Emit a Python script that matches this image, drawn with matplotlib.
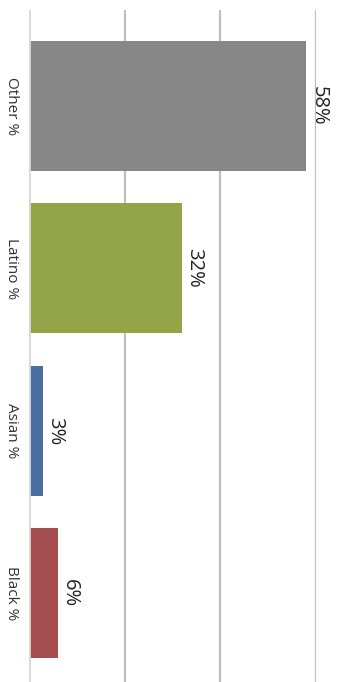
import matplotlib.pyplot as plt

# data
categories = ["Other %", "Latino %", "Asian %", "Black %"]
values = [58, 32, 3, 6]
colors = ["#878787", "#93a547", "#4a6fa5", "#a64d4f"]
ticks = [0, 20, 40, 60]

plt.rcParams["font.family"] = ["Open Sans", "DejaVu Sans"]

fig = plt.figure(figsize=(3.59, 6.82), dpi=100)
W, H = 359, 682
ax = fig.add_axes([29 / W, 0, (316 - 29) / W, 1 - 10 / H])

pos = list(range(len(categories)))
ax.barh(pos, values, height=0.8, color=colors, zorder=3)

# pixel calibration: slot 0 centre at y=106, pitch 162.5 px
ax.set_ylim(3 + (682 - 593) / 162.5, -(106 - 10) / 162.5)
ax.set_xlim(0, 60)
ax.set_xticks(ticks)
ax.tick_params(axis="x", bottom=False, labelbottom=False)
ax.tick_params(axis="y", left=False)
ax.set_yticks(pos)
ax.set_yticklabels(categories, rotation=-90, va="center", ha="center",
                   fontsize=11, color="#333333")
ax.yaxis.set_tick_params(pad=9)
ax.grid(axis="x", color="#bfbfbf", linewidth=1.6, zorder=0)
for s in ax.spines.values():
    s.set_visible(False)
ax.axvline(0, color="#d9d9d9", linewidth=2, zorder=4)

for p, v in zip(pos, values):
    ax.text(v + 0.4, p, f"{v}%", rotation=-90, va="center", ha="left",
            fontsize=14.5, color="#222222", zorder=5)

fig.savefig("out.png", dpi=100)
